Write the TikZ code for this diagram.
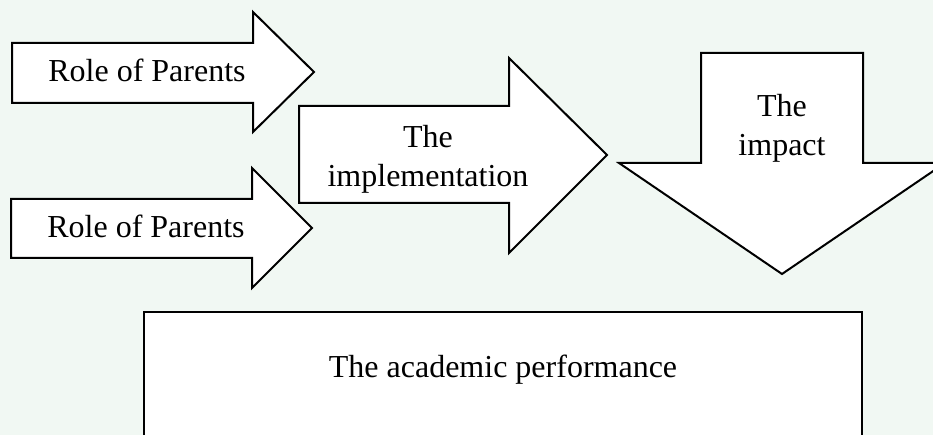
\documentclass[tikz,border=0pt]{standalone}
\usepackage{fontspec}
\setmainfont{Liberation Serif}
\definecolor{pagetint}{RGB}{241,248,243}
\tikzset{
    arrowbox/.style={draw=black, fill=white, line width=2pt, line join=miter},
    boxlabel/.style={font=\fontsize{32}{39}\selectfont, align=center, inner sep=0pt}
}

\begin{document}
\begin{tikzpicture}[x=1pt, y=-1pt]
    % Page and background
    \useasboundingbox (0,0) rectangle (933,435);
    \fill[pagetint] (0,0) rectangle (933,435);

    % Two input arrows
    \draw[arrowbox] (12,43) -- (253,43) -- (253,12) -- (314,72) -- (253,132) -- (253,103) -- (12,103) -- cycle;
    \node[boxlabel, anchor=base] (roleA) at (147,82) {Role of Parents};
    \draw[arrowbox] (11,199) -- (252,199) -- (252,168) -- (312,228) -- (252,288) -- (252,258) -- (11,258) -- cycle;
    \node[boxlabel, anchor=base] (roleB) at (146,238) {Role of Parents};

    % Implementation arrow
    \draw[arrowbox] (299,106) -- (509,106) -- (509,58) -- (607,155) -- (509,253) -- (509,203) -- (299,203) -- cycle;
    \node[boxlabel] (implement) at (428,159) {The\\implementation};

    % Downward impact arrow
    \draw[arrowbox] (701,53) -- (863,53) -- (863,163) -- (945,163) -- (782,274) -- (619,163) -- (701,163) -- cycle;
    \node[boxlabel] (impact) at (782,128) {The\\impact};

    % Result box
    \draw[arrowbox] (144,312) rectangle (862,460);
    \node[boxlabel, anchor=base] (perform) at (503,377) {The academic performance};
\end{tikzpicture}
\end{document}
